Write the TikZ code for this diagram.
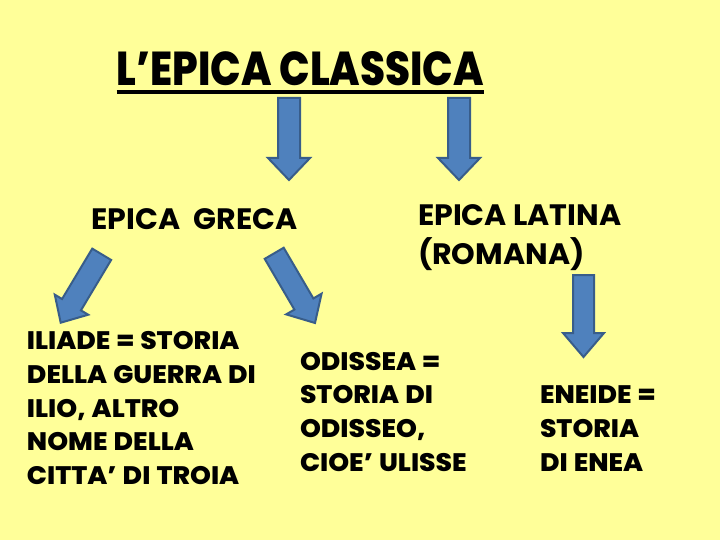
\documentclass[tikz,border=0pt]{standalone}
\usepackage{fontspec}
\setmainfont{Poppins}
\newfontfamily\bodyfont{Poppins ExtraBold}[FakeStretch=1.05,WordSpace=1.2]
\newfontfamily\titlefont{Poppins ExtraBold}[FakeStretch=0.85]
\newfontfamily\headfont{Poppins Bold}[FakeStretch=1.02]
\usetikzlibrary{calc}
\definecolor{bgyellow}{HTML}{FFFF99}
\definecolor{arrowfill}{HTML}{4F81BD}
\definecolor{arrowline}{HTML}{385D8A}
\newcommand\blockarrow[6]{%
  \coordinate (#1-t) at #2;
  \coordinate (#1-h) at #3;
  \coordinate (#1-b) at ($(#1-h)!#6!(#1-t)$);
  \draw[blockshape]
    ($(#1-t)!#4!90:(#1-h)$) -- ($(#1-b)!#4!90:(#1-h)$) --
    ($(#1-b)!#5!90:(#1-h)$) -- (#1-h) --
    ($(#1-b)!#5!-90:(#1-h)$) -- ($(#1-b)!#4!-90:(#1-h)$) --
    ($(#1-t)!#4!-90:(#1-h)$) -- cycle;
}
\begin{document}
\begin{tikzpicture}[x=1pt,y=-1pt,
  blockshape/.style={fill=arrowfill,draw=arrowline,line width=2pt,line join=miter},
  txt/.style={anchor=north west,inner sep=0pt,outer sep=0pt,align=left,text=black},
  titlestyle/.style={txt,font=\titlefont\fontsize{47.5}{50}\selectfont},
  headstyle/.style={txt,font=\headfont\fontsize{29.5}{39}\selectfont},
  bodystyle/.style={txt,font=\bodyfont\fontsize{25.3}{33.7}\selectfont},
  uline/.style={line width=3.5pt,black}]
\useasboundingbox (0,0) rectangle (720,540);
\fill[bgyellow] (0,0) rectangle (720,540);

\node[titlestyle] (title) at (116.7,51.7) {L’EPICA CLASSICA};
\draw[uline] ($(title.base west)+(0,6.5)$) -- ($(title.base east)+(0,6.5)$);

\node[headstyle] (greca) at (91.7,209) {EPICA\ \ GRECA};
\node[headstyle] (latina) at (418,205) {EPICA LATINA\\(ROMANA)};

\node[bodystyle] (iliade) at (27,331.7) {ILIADE = STORIA\\DELLA GUERRA DI\\ILIO, ALTRO\\NOME DELLA\\CITTA’ DI TROIA};
\node[bodystyle] (odissea) at (300,352) {ODISSEA =\\STORIA DI\\ODISSEO,\\CIOE’ ULISSE};
\node[bodystyle] (eneide) at (540,386) {ENEIDE =\\STORIA\\DI ENEA};

\blockarrow{a1}{(289,98)}{(289,180)}{11pt}{21pt}{22pt}
\blockarrow{a2}{(459,98)}{(459,180)}{11pt}{21pt}{22pt}
\blockarrow{a3}{(583.5,275)}{(583.5,357)}{10.5pt}{20.5pt}{24pt}
\blockarrow{a4}{(101.7,254.3)}{(60.7,322.7)}{11pt}{19.5pt}{21pt}
\blockarrow{a5}{(274.2,253.3)}{(315,323)}{11pt}{20.5pt}{22pt}
\end{tikzpicture}
\end{document}
